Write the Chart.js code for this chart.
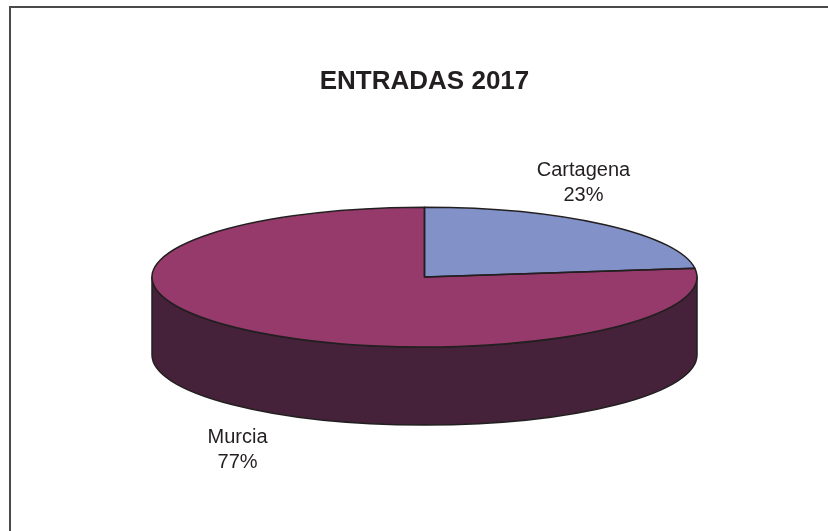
<!DOCTYPE html>
<html>
<head>
<meta charset="utf-8">
<title>Entradas 2017</title>
<script src="https://cdn.jsdelivr.net/npm/chart.js@4.4.0/dist/chart.umd.min.js"></script>
<style>
    html, body { margin: 0; padding: 0; background: #ffffff; }
    #pie-chart { display: block; }
</style>
</head>
<body>
<canvas id="pie-chart" width="828" height="531"></canvas>
<script>
// datos
const labels = ['Cartagena', 'Murcia'];
const values = [23, 77];
const topColors = ['#8292C9', '#963A6C'];
const sideColors = ['#4F5A80', '#45223A'];
const titleText = 'ENTRADAS 2017';

const DEPTH = 78;          // grosor del pastel 3D
const LABEL_OFFSET = 42;   // distancia de las etiquetas al borde
const LINE_COLOR = '#231F20';
const FONT = "'Liberation Sans', Arial, sans-serif";

// geometria de la elipse a partir de los arcos que calcula Chart.js
function getGeom(chart) {
    const arcs = chart.getDatasetMeta(0).data;
    const a0 = arcs[0];
    const area = chart.chartArea;
    return {
        arcs: arcs,
        cx: a0.x,
        cy: a0.y,
        r: a0.outerRadius,
        rx: area.width / 2,
        ry: a0.outerRadius
    };
}

const pie3d = {
    id: 'pie3d',
    beforeDraw(chart) {
        const ctx = chart.ctx;
        ctx.save();
        ctx.fillStyle = '#ffffff';
        ctx.fillRect(0, 0, chart.width, chart.height);
        // marco del grafico (solo arriba e izquierda quedan visibles)
        ctx.strokeStyle = '#4a4a4a';
        ctx.lineWidth = 2;
        ctx.beginPath();
        ctx.moveTo(10, chart.height);
        ctx.lineTo(10, 7);
        ctx.lineTo(chart.width, 7);
        ctx.stroke();
        ctx.restore();
    },
    beforeDatasetsDraw(chart) {
        const ctx = chart.ctx;
        const g = getGeom(chart);

        // paredes laterales (solo la mitad delantera, angulos 0..PI)
        ctx.save();
        ctx.strokeStyle = LINE_COLOR;
        ctx.lineWidth = 1.5;
        ctx.lineJoin = 'round';
        g.arcs.forEach((arc, i) => {
            const s = Math.max(arc.startAngle, 0);
            const e = Math.min(arc.endAngle, Math.PI);
            if (s >= e) return;
            ctx.beginPath();
            ctx.ellipse(g.cx, g.cy, g.rx, g.ry, 0, s, e);
            ctx.lineTo(g.cx + g.rx * Math.cos(e), g.cy + g.ry * Math.sin(e) + DEPTH);
            ctx.ellipse(g.cx, g.cy + DEPTH, g.rx, g.ry, 0, e, s, true);
            ctx.closePath();
            ctx.fillStyle = sideColors[i];
            ctx.fill();
            ctx.stroke();
        });
        ctx.restore();

        // la cara superior se estira en horizontal hasta formar la elipse
        ctx.save();
        ctx.translate(g.cx, g.cy);
        ctx.scale(g.rx / g.r, 1);
        ctx.translate(-g.cx, -g.cy);
    },
    afterDatasetsDraw(chart) {
        const ctx = chart.ctx;
        ctx.restore();
        const g = getGeom(chart);

        // contornos de los sectores
        ctx.save();
        ctx.strokeStyle = LINE_COLOR;
        ctx.lineWidth = 1.5;
        ctx.lineJoin = 'round';
        g.arcs.forEach(arc => {
            ctx.beginPath();
            ctx.moveTo(g.cx, g.cy);
            ctx.ellipse(g.cx, g.cy, g.rx, g.ry, 0, arc.startAngle, arc.endAngle);
            ctx.closePath();
            ctx.stroke();
        });

        // etiquetas: nombre y porcentaje
        const total = values.reduce((a, b) => a + b, 0);
        ctx.fillStyle = LINE_COLOR;
        ctx.font = '20px ' + FONT;
        ctx.textAlign = 'center';
        ctx.textBaseline = 'middle';
        g.arcs.forEach((arc, i) => {
            const mid = (arc.startAngle + arc.endAngle) / 2;
            const c = Math.cos(mid), s = Math.sin(mid);
            const x = g.cx + c * (g.rx - 11) - 14;
            let y = g.cy + g.ry * s;
            y += s > 0 ? DEPTH + LABEL_OFFSET : -LABEL_OFFSET;
            const pct = Math.round(values[i] / total * 100) + '%';
            ctx.fillText(labels[i], x, y - 12.5);
            ctx.fillText(pct, x, y + 12.5);
        });
        ctx.restore();
    }
};

window.onload = function() {
    const ctx = document.getElementById('pie-chart').getContext('2d');
    new Chart(ctx, {
        type: 'pie',
        data: {
            labels: labels,
            datasets: [{
                data: values,
                backgroundColor: topColors,
                borderWidth: 0,
                hoverOffset: 0
            }]
        },
        options: {
            responsive: false,
            animation: false,
            events: [],
            layout: {
                padding: { left: 152, right: 131, top: 0, bottom: 184 }
            },
            plugins: {
                legend: { display: false },
                tooltip: { enabled: false },
                title: {
                    display: true,
                    text: titleText,
                    color: LINE_COLOR,
                    font: { family: FONT, size: 26, weight: 'bold' },
                    padding: { top: 66, bottom: 110 }
                }
            }
        },
        plugins: [pie3d]
    });
};
</script>
</body>
</html>
